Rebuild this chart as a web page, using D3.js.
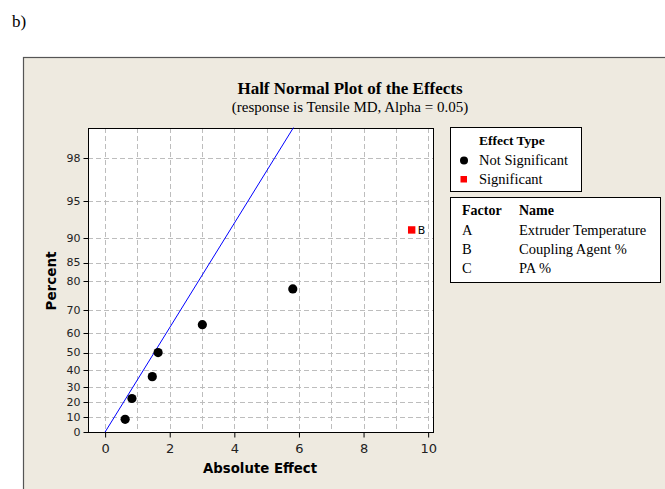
<!DOCTYPE html>
<html>
<head>
<meta charset="utf-8">
<script src="https://cdn.jsdelivr.net/npm/d3@7"></script>
<style>
  html, body { margin: 0; padding: 0; background: #fff; }
  svg { display: block; }
</style>
</head>
<body>
<div id="chart"></div>
<script>
// effects (absolute effect, percent)
const effectLabels = ['', '', '', '', '', '', 'B'];
const effectValues = [0.62, 0.83, 1.46, 1.64, 3.01, 5.81, 9.49];
const effectPercents = [8.6, 22.4, 36.2, 50, 63.8, 77.6, 91.4];
const effectSignificant = [false, false, false, false, false, false, true];

// fitted reference line (two ends)
const lineEffects = [0, 5.83];
const linePercents = [0, 99.03];

const xTicks = [0, 2, 4, 6, 8, 10];
const xGrid = [0, 1, 2, 3, 4, 5, 6, 7, 8, 9, 10];
const yTicks = [0, 10, 20, 30, 40, 50, 60, 70, 80, 85, 90, 95, 98];

const factorCodes = ['A', 'B', 'C'];
const factorNames = ['Extruder Temperature', 'Coupling Agent %', 'PA %'];

const width = 665, height = 489;
const plot = { left: 88, right: 433, top: 128, bottom: 432 };
const serif = '"Liberation Serif", "Times New Roman", serif';
const sans = '"DejaVu Sans", Verdana, sans-serif';

// inverse normal cdf (Acklam)
function probit(p) {
  const a = [-39.6968302866538, 220.946098424521, -275.928510446969, 138.357751867269, -30.6647980661472, 2.50662827745924];
  const b = [-54.4760987982241, 161.585836858041, -155.698979859887, 66.8013118877197, -13.2806815528857];
  const c = [-0.00778489400243029, -0.322396458041136, -2.40075827716184, -2.54973253934373, 4.37466414146497, 2.93816398269878];
  const d = [0.00778469570904146, 0.32246712907004, 2.445134137143, 3.75440866190742];
  const pl = 0.02425;
  let q, r;
  if (p < pl) {
    q = Math.sqrt(-2 * Math.log(p));
    return (((((c[0]*q+c[1])*q+c[2])*q+c[3])*q+c[4])*q+c[5]) / ((((d[0]*q+d[1])*q+d[2])*q+d[3])*q+1);
  }
  if (p <= 1 - pl) {
    q = p - 0.5; r = q * q;
    return (((((a[0]*r+a[1])*r+a[2])*r+a[3])*r+a[4])*r+a[5])*q / (((((b[0]*r+b[1])*r+b[2])*r+b[3])*r+b[4])*r+1);
  }
  q = Math.sqrt(-2 * Math.log(1 - p));
  return -(((((c[0]*q+c[1])*q+c[2])*q+c[3])*q+c[4])*q+c[5]) / ((((d[0]*q+d[1])*q+d[2])*q+d[3])*q+1);
}
const halfZ = pct => probit(0.5 + pct / 200);

const x = d3.scaleLinear().domain([-0.53, 10.15]).range([plot.left, plot.right]);
const yz = d3.scaleLinear().domain([0, 2.583]).range([plot.bottom, plot.top]);
const y = pct => yz(halfZ(pct));

const svg = d3.select('#chart').append('svg')
  .attr('width', width)
  .attr('height', height);

svg.append('text')
  .attr('x', 12).attr('y', 27)
  .attr('font-family', serif).attr('font-size', 17)
  .text('b)');

// outer panel
svg.append('rect')
  .attr('x', 23.5).attr('y', 57.5)
  .attr('width', width).attr('height', height)
  .attr('fill', '#eeeae0')
  .attr('stroke', '#555').attr('stroke-width', 1.2);

svg.append('text')
  .attr('x', 350).attr('y', 94)
  .attr('text-anchor', 'middle')
  .attr('font-family', serif).attr('font-size', 17).attr('font-weight', 'bold')
  .text('Half Normal Plot of the Effects');

svg.append('text')
  .attr('x', 350).attr('y', 112)
  .attr('text-anchor', 'middle')
  .attr('font-family', serif).attr('font-size', 15)
  .text('(response is Tensile MD, Alpha = 0.05)');

// plot area
svg.append('rect')
  .attr('x', plot.left).attr('y', plot.top)
  .attr('width', plot.right - plot.left).attr('height', plot.bottom - plot.top)
  .attr('fill', '#fff');

const grid = svg.append('g')
  .attr('stroke', '#bdbdbd').attr('stroke-dasharray', '5,3').attr('stroke-width', 1);

grid.selectAll('line.v').data(xGrid).join('line')
  .attr('class', 'v')
  .attr('x1', d => Math.round(x(d)) + 0.5).attr('x2', d => Math.round(x(d)) + 0.5)
  .attr('y1', plot.top).attr('y2', plot.bottom);

grid.selectAll('line.h').data(yTicks.filter(d => d > 0)).join('line')
  .attr('class', 'h')
  .attr('y1', d => Math.round(y(d)) + 0.5).attr('y2', d => Math.round(y(d)) + 0.5)
  .attr('x1', plot.left).attr('x2', plot.right);

svg.append('rect')
  .attr('x', plot.left + 0.5).attr('y', plot.top + 0.5)
  .attr('width', plot.right - plot.left).attr('height', plot.bottom - plot.top)
  .attr('fill', 'none').attr('stroke', '#000').attr('stroke-width', 1);

// axes
const xAxis = svg.append('g')
  .attr('transform', `translate(0,${plot.bottom + 0.5})`)
  .call(d3.axisBottom(x).tickValues(xTicks).tickSize(5).tickPadding(6).tickFormat(d3.format('d')));
xAxis.select('.domain').remove();
xAxis.selectAll('text')
  .attr('font-family', sans).attr('font-size', 13).attr('fill', '#222');

const yAxis = svg.append('g')
  .attr('transform', `translate(${plot.left + 0.5},0)`);
yAxis.selectAll('line').data(yTicks).join('line')
  .attr('x1', -5).attr('x2', 0)
  .attr('y1', d => Math.round(y(d)) + 0.5).attr('y2', d => Math.round(y(d)) + 0.5)
  .attr('stroke', '#000');
yAxis.selectAll('text').data(yTicks).join('text')
  .attr('x', -8)
  .attr('y', d => y(d))
  .attr('dy', '0.35em')
  .attr('text-anchor', 'end')
  .attr('font-family', sans).attr('font-size', 11).attr('fill', '#222')
  .text(d => d);

svg.append('text')
  .attr('x', 260).attr('y', 473)
  .attr('text-anchor', 'middle')
  .attr('font-family', sans).attr('font-size', 13.3).attr('font-weight', 'bold')
  .text('Absolute Effect');

svg.append('text')
  .attr('transform', 'translate(56,281) rotate(-90)')
  .attr('text-anchor', 'middle')
  .attr('font-family', sans).attr('font-size', 13.5).attr('font-weight', 'bold')
  .text('Percent');

// reference line
const lineData = d3.zip(lineEffects, linePercents);
svg.append('path')
  .attr('d', d3.line().x(d => x(d[0])).y(d => y(d[1]))(lineData))
  .attr('stroke', '#0000ff').attr('stroke-width', 1).attr('fill', 'none');

// effects
const pts = effectValues.map((v, i) => ({
  v, p: effectPercents[i], sig: effectSignificant[i], label: effectLabels[i]
}));

svg.selectAll('circle.eff').data(pts.filter(d => !d.sig)).join('circle')
  .attr('class', 'eff')
  .attr('cx', d => x(d.v)).attr('cy', d => y(d.p))
  .attr('r', 4.6).attr('fill', '#000');

svg.selectAll('rect.eff').data(pts.filter(d => d.sig)).join('rect')
  .attr('class', 'eff')
  .attr('x', d => x(d.v) - 3.7).attr('y', d => y(d.p) - 3.7)
  .attr('width', 7.4).attr('height', 7.4).attr('fill', '#ff0000');

svg.selectAll('text.lab').data(pts.filter(d => d.label)).join('text')
  .attr('class', 'lab')
  .attr('x', d => x(d.v) + 6).attr('y', d => y(d.p))
  .attr('dy', '0.35em')
  .attr('font-family', sans).attr('font-size', 11)
  .text(d => d.label);

// legend: effect type
const leg = svg.append('g');
leg.append('rect')
  .attr('x', 450.5).attr('y', 127.5).attr('width', 131).attr('height', 64)
  .attr('fill', '#fff').attr('stroke', '#000');
leg.append('text')
  .attr('x', 479).attr('y', 145)
  .attr('font-family', serif).attr('font-size', 13.5).attr('font-weight', 'bold')
  .text('Effect Type');
leg.append('circle').attr('cx', 464).attr('cy', 160.5).attr('r', 4).attr('fill', '#000');
leg.append('text')
  .attr('x', 479).attr('y', 165)
  .attr('font-family', serif).attr('font-size', 14.5)
  .text('Not Significant');
leg.append('rect').attr('x', 460.5).attr('y', 176).attr('width', 6.5).attr('height', 6.5).attr('fill', '#ff0000');
leg.append('text')
  .attr('x', 479).attr('y', 184)
  .attr('font-family', serif).attr('font-size', 14.5)
  .text('Significant');

// legend: factor names
const fac = svg.append('g');
fac.append('rect')
  .attr('x', 450.5).attr('y', 197.5).attr('width', 210).attr('height', 85)
  .attr('fill', '#fff').attr('stroke', '#000');
fac.append('text')
  .attr('x', 462).attr('y', 214.5)
  .attr('font-family', serif).attr('font-size', 14).attr('font-weight', 'bold')
  .text('Factor');
fac.append('text')
  .attr('x', 519).attr('y', 214.5)
  .attr('font-family', serif).attr('font-size', 14).attr('font-weight', 'bold')
  .text('Name');
fac.selectAll('text.code').data(factorCodes).join('text')
  .attr('class', 'code')
  .attr('x', 462).attr('y', (d, i) => 235 + i * 19.2)
  .attr('font-family', serif).attr('font-size', 14.5)
  .text(d => d);
fac.selectAll('text.name').data(factorNames).join('text')
  .attr('class', 'name')
  .attr('x', 519).attr('y', (d, i) => 235 + i * 19.2)
  .attr('font-family', serif).attr('font-size', 14.5)
  .text(d => d);
</script>
</body>
</html>
